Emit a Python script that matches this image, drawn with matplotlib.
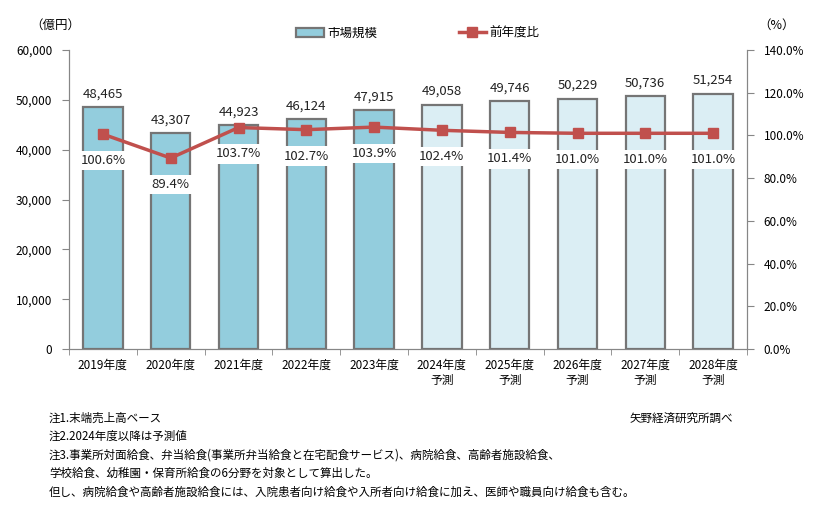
import matplotlib.pyplot as plt
import matplotlib.patches as mpatches
from matplotlib.lines import Line2D
import numpy as np

plt.rcParams['font.family'] = ['Noto Sans CJK JP', 'DejaVu Sans']

# --- Data ---
years = ['2019年度', '2020年度', '2021年度', '2022年度', '2023年度',
         '2024年度\n予測', '2025年度\n予測', '2026年度\n予測', '2027年度\n予測', '2028年度\n予測']
market = [48465, 43307, 44923, 46124, 47915, 49058, 49746, 50229, 50736, 51254]
yoy = [100.6, 89.4, 103.7, 102.7, 103.9, 102.4, 101.4, 101.0, 101.0, 101.0]
is_forecast = [False] * 5 + [True] * 5

notes = [
    '注1.末端売上高ベース',
    '注2.2024年度以降は予測値',
    '注3.事業所対面給食、弁当給食(事業所弁当給食と在宅配食サービス)、病院給食、高齢者施設給食、',
    '学校給食、幼稚園・保育所給食の6分野を対象として算出した。',
    '但し、病院給食や高齢者施設給食には、入院患者向け給食や入所者向け給食に加え、医師や職員向け給食も含む。',
]
source = '矢野経済研究所調べ'

# --- Colors ---
BAR_PAST = '#93CDDD'
BAR_FCST = '#DBEEF4'
BAR_EDGE = '#757575'
LINE_COLOR = '#C0504D'
AXIS_COLOR = '#868686'

W, H = 816, 508
fig = plt.figure(figsize=(W / 100, H / 100), dpi=100)
ax = fig.add_axes([69 / W, 1 - 349 / H, (747 - 69) / W, (349 - 50) / H])
ax2 = ax.twinx()

x = np.arange(len(years))
colors = [BAR_FCST if f else BAR_PAST for f in is_forecast]
ax.bar(x, market, width=0.58, color=colors, edgecolor=BAR_EDGE, linewidth=1.6, zorder=2)
for xi, v in zip(x, market):
    ax.annotate(f'{v:,}', (xi, v), xytext=(0, 5), textcoords='offset points',
                ha='center', va='bottom', fontsize=9.5, color='#222222')

ax.set_xlim(-0.5, len(years) - 0.5)
ax.set_ylim(0, 60000)
ax.set_yticks(np.arange(0, 60001, 10000))
ax.set_yticklabels([f'{v:,}' for v in range(0, 60001, 10000)])
ax.set_xticks(x)
ax.set_xticklabels(years, fontsize=8.5, linespacing=1.25)
ax.set_xticks(np.arange(-0.5, len(years), 1), minor=True)
ax.tick_params(axis='x', which='major', length=0, pad=7)
ax.tick_params(axis='x', which='minor', length=4, color=AXIS_COLOR)
ax.tick_params(axis='y', length=5, color=AXIS_COLOR, labelsize=8.5, pad=7)

ax2.plot(x, yoy, color=LINE_COLOR, linewidth=2.5, marker='s', markersize=7, zorder=3)
for xi, v in zip(x, yoy):
    ax2.annotate(f'{v:.1f}%', (xi, v), xytext=(0, -19), textcoords='offset points',
                 ha='center', va='center', fontsize=9.5, color='#222222',
                 bbox=dict(boxstyle='square,pad=0.25', fc='white', ec='none'))
ax2.set_ylim(0, 140)
ax2.set_yticks(np.arange(0, 141, 20))
ax2.set_yticklabels([f'{v:.1f}%' for v in range(0, 141, 20)])
ax2.tick_params(axis='y', length=5, color=AXIS_COLOR, labelsize=8.5, pad=7)

for a in (ax, ax2):
    a.spines['top'].set_visible(False)
    for s in ('left', 'right', 'bottom'):
        a.spines[s].set_color(AXIS_COLOR)

ax2.set_zorder(ax.get_zorder() + 1)
ax2.patch.set_visible(False)

fig.text(30 / W, 1 - 25 / H, '（億円）', fontsize=9, va='center', ha='left')
fig.text(758 / W, 1 - 25 / H, '（%）', fontsize=9, va='center', ha='left')

handles = [mpatches.Patch(facecolor=BAR_PAST, edgecolor=BAR_EDGE, linewidth=1.6, label='市場規模'),
           Line2D([0], [0], color=LINE_COLOR, linewidth=2.5, marker='s', markersize=7, label='前年度比')]
fig.legend(handles=handles, loc='center', bbox_to_anchor=(418 / W, 1 - 33 / H), ncol=2,
           frameon=False, fontsize=9, columnspacing=6.5, handlelength=2.2, handletextpad=0.3)

for i, line in enumerate(notes):
    fig.text(49 / W, 1 - (418 + i * 18.5) / H, line, fontsize=8.3, va='center', ha='left')
fig.text(733 / W, 1 - 418 / H, source, fontsize=8.3, va='center', ha='right')

fig.savefig('out.png', dpi=100)
